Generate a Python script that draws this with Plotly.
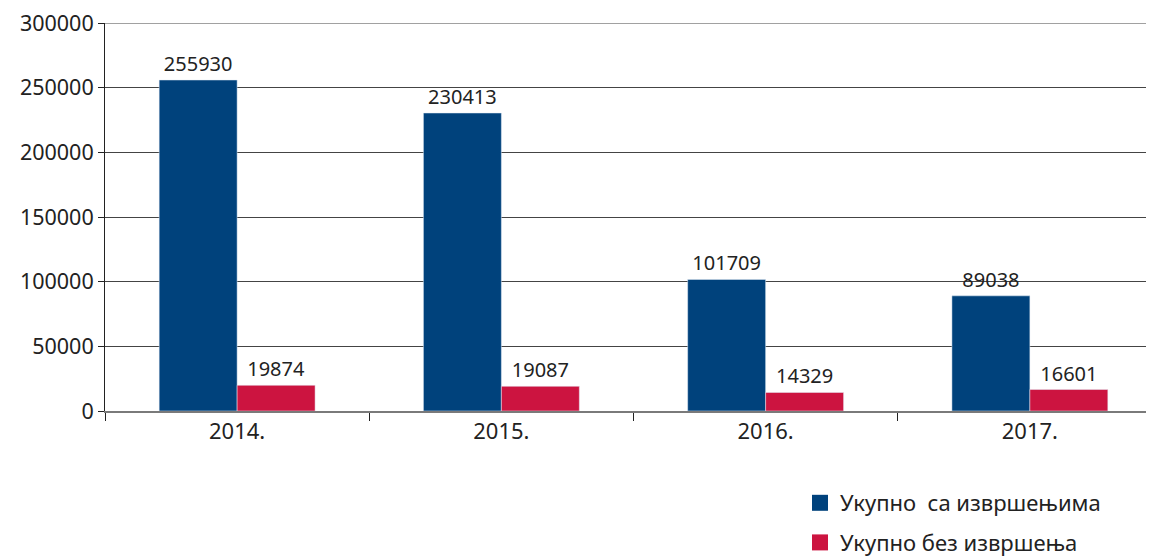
import plotly.graph_objects as go

years = ["2014.", "2015.", "2016.", "2017."]
with_exec = [255930, 230413, 101709, 89038]
without_exec = [19874, 19087, 14329, 16601]
name_with = "Укупно\u00a0\u00a0са извршењима"
name_without = "Укупно без извршења"
y_ticks = [0, 50000, 100000, 150000, 200000, 250000, 300000]

BLUE = "#00427c"
RED = "#cc1440"
FONT = "Noto Sans"

fig = go.Figure()
fig.add_trace(go.Bar(x=years, y=with_exec, marker_color=BLUE, name=name_with,
                     text=[str(v) for v in with_exec], textposition="outside",
                     textfont=dict(size=20, color="#222", family=FONT),
                     cliponaxis=False, showlegend=False))
fig.add_trace(go.Bar(x=years, y=without_exec, marker_color=RED, name=name_without,
                     text=[str(v) for v in without_exec], textposition="outside",
                     textfont=dict(size=20, color="#222", family=FONT),
                     cliponaxis=False, showlegend=False))
# legend proxies
fig.add_trace(go.Scatter(x=[None], y=[None], mode="markers", name=name_with,
                         legendgroup="a",
                         marker=dict(symbol="square", size=20, color=BLUE)))
fig.add_trace(go.Scatter(x=[None], y=[None], mode="markers", name=name_without,
                         legendgroup="b",
                         marker=dict(symbol="square", size=20, color=RED)))

# top border gridline at the axis maximum
fig.add_shape(type="line", xref="paper", yref="y", x0=0, x1=1,
              y0=y_ticks[-1], y1=y_ticks[-1], line=dict(color="#444", width=1))

fig.update_layout(
    width=1154, height=548,
    margin=dict(l=97, r=0, t=15, b=145, autoexpand=False),
    paper_bgcolor="white", plot_bgcolor="white",
    barmode="group", bargap=0.41, bargroupgap=0,
    font=dict(family=FONT, size=20, color="#222"),
    showlegend=True,
    legend=dict(x=0.6575, y=-0.183, xanchor="left", yanchor="top",
                font=dict(size=22, color="#222", family=FONT),
                traceorder="grouped", tracegroupgap=8, itemwidth=30),
    xaxis=dict(type="category", showgrid=False, showline=True, linecolor="#7a7a7a",
               linewidth=2, ticks="outside", tickson="boundaries", ticklen=8,
               tickcolor="#222", tickwidth=1, tickfont=dict(size=22, color="#222"),
               automargin=False, fixedrange=True),
    yaxis=dict(range=[0, y_ticks[-1]], tickvals=y_ticks, ticktext=[str(v) for v in y_ticks],
               showgrid=True, gridcolor="#444", gridwidth=1,
               showline=True, linecolor="#222", linewidth=1,
               ticks="outside", ticklen=6, tickcolor="#222", tickwidth=1,
               tickfont=dict(size=21.5, color="#222"), zeroline=False,
               ticklabeloverflow="allow",
               automargin=False, fixedrange=True),
)

fig.write_html("out.html")
